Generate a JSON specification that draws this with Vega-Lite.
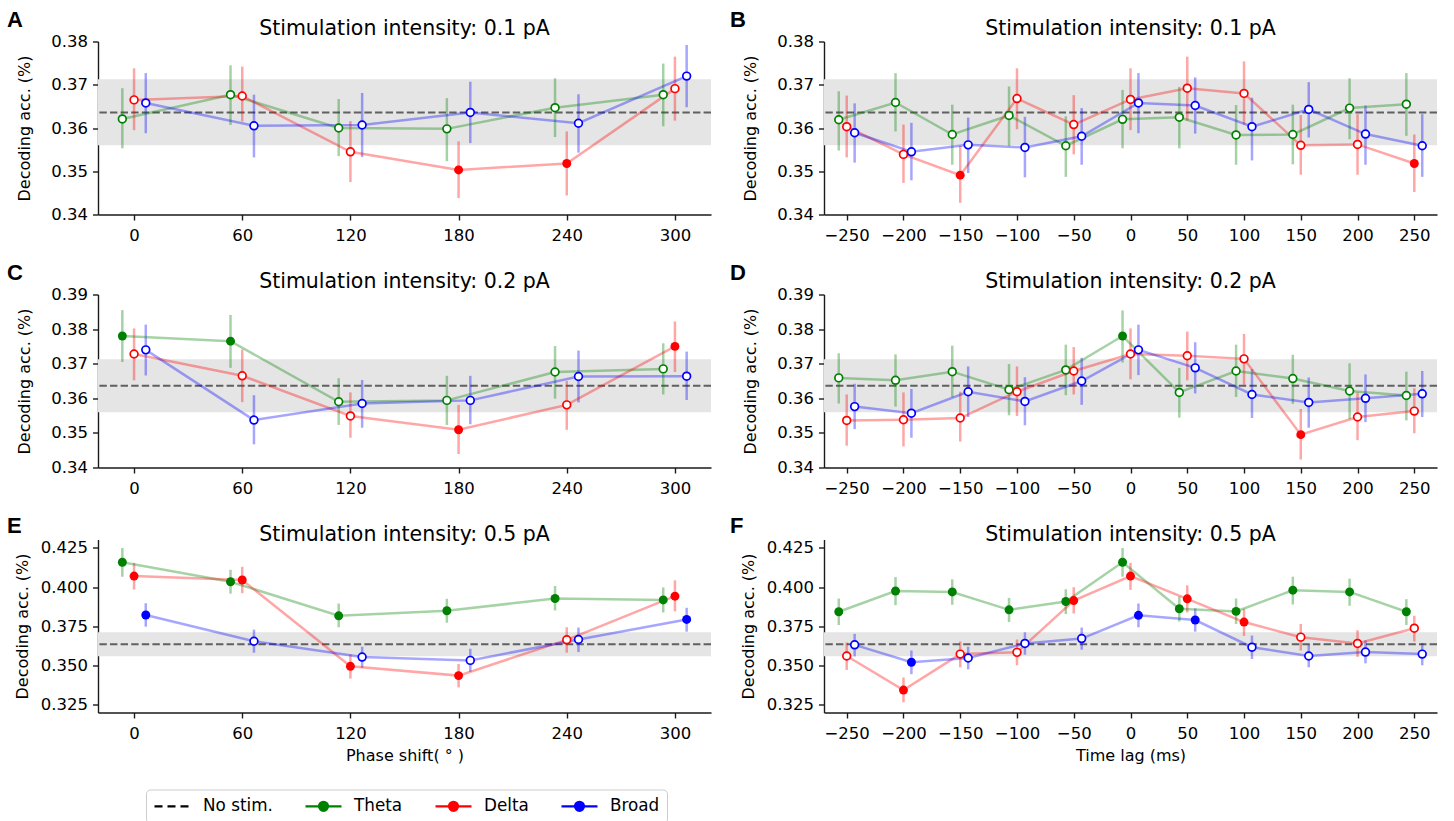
{
  "$schema": "https://vega.github.io/schema/vega-lite/v6.json",
  "background": "white",
  "padding": {"left": 7, "top": 8.5, "right": 4, "bottom": 1},
  "spacing": 18,
  "datasets": {
    "base": [{"lo": 0.356, "hi": 0.3713, "mean": 0.3636}],
    "pts": [
      {"p":"A","s":"Theta","x":-6.5,"y":0.3621,"lo":0.3553,"hi":0.3692,"f":0},
      {"p":"A","s":"Theta","x":53.5,"y":0.3677,"lo":0.3607,"hi":0.3745,"f":0},
      {"p":"A","s":"Theta","x":113.5,"y":0.3600,"lo":0.3535,"hi":0.3667,"f":0},
      {"p":"A","s":"Theta","x":173.5,"y":0.3598,"lo":0.3523,"hi":0.3669,"f":0},
      {"p":"A","s":"Theta","x":233.5,"y":0.3647,"lo":0.3579,"hi":0.3715,"f":0},
      {"p":"A","s":"Theta","x":293.5,"y":0.3677,"lo":0.3604,"hi":0.3749,"f":0},
      {"p":"A","s":"Delta","x":0,"y":0.3665,"lo":0.3595,"hi":0.3738,"f":0},
      {"p":"A","s":"Delta","x":60,"y":0.3674,"lo":0.3615,"hi":0.3742,"f":0},
      {"p":"A","s":"Delta","x":120,"y":0.3545,"lo":0.3475,"hi":0.3616,"f":0},
      {"p":"A","s":"Delta","x":180,"y":0.3503,"lo":0.3438,"hi":0.3569,"f":1},
      {"p":"A","s":"Delta","x":240,"y":0.3518,"lo":0.3444,"hi":0.3592,"f":1},
      {"p":"A","s":"Delta","x":300,"y":0.3691,"lo":0.3617,"hi":0.3765,"f":0},
      {"p":"A","s":"Broad","x":6.5,"y":0.3658,"lo":0.3588,"hi":0.3727,"f":0},
      {"p":"A","s":"Broad","x":66.5,"y":0.3605,"lo":0.3532,"hi":0.3677,"f":0},
      {"p":"A","s":"Broad","x":126.5,"y":0.3607,"lo":0.3533,"hi":0.3681,"f":0},
      {"p":"A","s":"Broad","x":186.5,"y":0.3636,"lo":0.3565,"hi":0.3707,"f":0},
      {"p":"A","s":"Broad","x":246.5,"y":0.3611,"lo":0.3543,"hi":0.3678,"f":0},
      {"p":"A","s":"Broad","x":306.5,"y":0.3720,"lo":0.3648,"hi":0.3792,"f":0},

      {"p":"B","s":"Theta","x":-257,"y":0.3619,"lo":0.3548,"hi":0.3685,"f":0},
      {"p":"B","s":"Theta","x":-207,"y":0.3659,"lo":0.3592,"hi":0.3727,"f":0},
      {"p":"B","s":"Theta","x":-157,"y":0.3585,"lo":0.3515,"hi":0.3654,"f":0},
      {"p":"B","s":"Theta","x":-107,"y":0.3629,"lo":0.3558,"hi":0.3696,"f":0},
      {"p":"B","s":"Theta","x":-57,"y":0.3559,"lo":0.3487,"hi":0.3627,"f":0},
      {"p":"B","s":"Theta","x":-7,"y":0.3620,"lo":0.3553,"hi":0.3688,"f":0},
      {"p":"B","s":"Theta","x":43,"y":0.3625,"lo":0.3553,"hi":0.3695,"f":0},
      {"p":"B","s":"Theta","x":93,"y":0.3584,"lo":0.3515,"hi":0.3653,"f":0},
      {"p":"B","s":"Theta","x":143,"y":0.3585,"lo":0.3516,"hi":0.3654,"f":0},
      {"p":"B","s":"Theta","x":193,"y":0.3646,"lo":0.3574,"hi":0.3715,"f":0},
      {"p":"B","s":"Theta","x":243,"y":0.3655,"lo":0.3582,"hi":0.3727,"f":0},
      {"p":"B","s":"Delta","x":-250,"y":0.3603,"lo":0.3532,"hi":0.3675,"f":0},
      {"p":"B","s":"Delta","x":-200,"y":0.3539,"lo":0.3473,"hi":0.3608,"f":0},
      {"p":"B","s":"Delta","x":-150,"y":0.3491,"lo":0.3427,"hi":0.3559,"f":1},
      {"p":"B","s":"Delta","x":-100,"y":0.3668,"lo":0.3597,"hi":0.3738,"f":0},
      {"p":"B","s":"Delta","x":-50,"y":0.3608,"lo":0.3539,"hi":0.3676,"f":0},
      {"p":"B","s":"Delta","x":0,"y":0.3666,"lo":0.3595,"hi":0.3738,"f":0},
      {"p":"B","s":"Delta","x":50,"y":0.3692,"lo":0.3617,"hi":0.3765,"f":0},
      {"p":"B","s":"Delta","x":100,"y":0.3680,"lo":0.3608,"hi":0.3754,"f":0},
      {"p":"B","s":"Delta","x":150,"y":0.3560,"lo":0.3492,"hi":0.3630,"f":0},
      {"p":"B","s":"Delta","x":200,"y":0.3562,"lo":0.3492,"hi":0.3632,"f":0},
      {"p":"B","s":"Delta","x":250,"y":0.3518,"lo":0.3452,"hi":0.3585,"f":1},
      {"p":"B","s":"Broad","x":-243,"y":0.3589,"lo":0.3520,"hi":0.3657,"f":0},
      {"p":"B","s":"Broad","x":-193,"y":0.3545,"lo":0.3479,"hi":0.3612,"f":0},
      {"p":"B","s":"Broad","x":-143,"y":0.3561,"lo":0.3496,"hi":0.3624,"f":0},
      {"p":"B","s":"Broad","x":-93,"y":0.3555,"lo":0.3486,"hi":0.3626,"f":0},
      {"p":"B","s":"Broad","x":-43,"y":0.3581,"lo":0.3515,"hi":0.3646,"f":0},
      {"p":"B","s":"Broad","x":7,"y":0.3658,"lo":0.3588,"hi":0.3727,"f":0},
      {"p":"B","s":"Broad","x":57,"y":0.3652,"lo":0.3587,"hi":0.3717,"f":0},
      {"p":"B","s":"Broad","x":107,"y":0.3603,"lo":0.3525,"hi":0.3670,"f":0},
      {"p":"B","s":"Broad","x":157,"y":0.3643,"lo":0.3578,"hi":0.3706,"f":0},
      {"p":"B","s":"Broad","x":207,"y":0.3586,"lo":0.3515,"hi":0.3652,"f":0},
      {"p":"B","s":"Broad","x":257,"y":0.3559,"lo":0.3487,"hi":0.3632,"f":0},

      {"p":"C","s":"Theta","x":-6.5,"y":0.3780,"lo":0.3705,"hi":0.3855,"f":1},
      {"p":"C","s":"Theta","x":53.5,"y":0.3765,"lo":0.3688,"hi":0.3841,"f":1},
      {"p":"C","s":"Theta","x":113.5,"y":0.3590,"lo":0.3523,"hi":0.3658,"f":0},
      {"p":"C","s":"Theta","x":173.5,"y":0.3594,"lo":0.3523,"hi":0.3665,"f":0},
      {"p":"C","s":"Theta","x":233.5,"y":0.3676,"lo":0.3599,"hi":0.3751,"f":0},
      {"p":"C","s":"Theta","x":293.5,"y":0.3685,"lo":0.3611,"hi":0.3759,"f":0},
      {"p":"C","s":"Delta","x":0,"y":0.3728,"lo":0.3652,"hi":0.3802,"f":0},
      {"p":"C","s":"Delta","x":60,"y":0.3665,"lo":0.3589,"hi":0.3741,"f":0},
      {"p":"C","s":"Delta","x":120,"y":0.3549,"lo":0.3486,"hi":0.3617,"f":0},
      {"p":"C","s":"Delta","x":180,"y":0.3509,"lo":0.3439,"hi":0.3581,"f":1},
      {"p":"C","s":"Delta","x":240,"y":0.3581,"lo":0.3509,"hi":0.3650,"f":0},
      {"p":"C","s":"Delta","x":300,"y":0.3750,"lo":0.3676,"hi":0.3822,"f":1},
      {"p":"C","s":"Broad","x":6.5,"y":0.3740,"lo":0.3666,"hi":0.3813,"f":0},
      {"p":"C","s":"Broad","x":66.5,"y":0.3537,"lo":0.3467,"hi":0.3609,"f":0},
      {"p":"C","s":"Broad","x":126.5,"y":0.3585,"lo":0.3515,"hi":0.3653,"f":0},
      {"p":"C","s":"Broad","x":186.5,"y":0.3594,"lo":0.3525,"hi":0.3665,"f":0},
      {"p":"C","s":"Broad","x":246.5,"y":0.3663,"lo":0.3588,"hi":0.3738,"f":0},
      {"p":"C","s":"Broad","x":306.5,"y":0.3664,"lo":0.3595,"hi":0.3735,"f":0},

      {"p":"D","s":"Theta","x":-257,"y":0.3659,"lo":0.3585,"hi":0.3730,"f":0},
      {"p":"D","s":"Theta","x":-207,"y":0.3652,"lo":0.3576,"hi":0.3727,"f":0},
      {"p":"D","s":"Theta","x":-157,"y":0.3677,"lo":0.3603,"hi":0.3752,"f":0},
      {"p":"D","s":"Theta","x":-107,"y":0.3625,"lo":0.3551,"hi":0.3699,"f":0},
      {"p":"D","s":"Theta","x":-57,"y":0.3682,"lo":0.3609,"hi":0.3755,"f":0},
      {"p":"D","s":"Theta","x":-7,"y":0.3780,"lo":0.3703,"hi":0.3854,"f":1},
      {"p":"D","s":"Theta","x":43,"y":0.3617,"lo":0.3544,"hi":0.3688,"f":0},
      {"p":"D","s":"Theta","x":93,"y":0.3679,"lo":0.3604,"hi":0.3755,"f":0},
      {"p":"D","s":"Theta","x":143,"y":0.3657,"lo":0.3584,"hi":0.3726,"f":0},
      {"p":"D","s":"Theta","x":193,"y":0.3621,"lo":0.3540,"hi":0.3701,"f":0},
      {"p":"D","s":"Theta","x":243,"y":0.3608,"lo":0.3536,"hi":0.3677,"f":0},
      {"p":"D","s":"Delta","x":-250,"y":0.3536,"lo":0.3463,"hi":0.3611,"f":0},
      {"p":"D","s":"Delta","x":-200,"y":0.3538,"lo":0.3461,"hi":0.3617,"f":0},
      {"p":"D","s":"Delta","x":-150,"y":0.3543,"lo":0.3475,"hi":0.3619,"f":0},
      {"p":"D","s":"Delta","x":-100,"y":0.3619,"lo":0.3549,"hi":0.3692,"f":0},
      {"p":"D","s":"Delta","x":-50,"y":0.3679,"lo":0.3611,"hi":0.3748,"f":0},
      {"p":"D","s":"Delta","x":0,"y":0.3728,"lo":0.3655,"hi":0.3802,"f":0},
      {"p":"D","s":"Delta","x":50,"y":0.3723,"lo":0.3652,"hi":0.3793,"f":0},
      {"p":"D","s":"Delta","x":100,"y":0.3714,"lo":0.3639,"hi":0.3786,"f":0},
      {"p":"D","s":"Delta","x":150,"y":0.3495,"lo":0.3423,"hi":0.3569,"f":1},
      {"p":"D","s":"Delta","x":200,"y":0.3546,"lo":0.3479,"hi":0.3617,"f":0},
      {"p":"D","s":"Delta","x":250,"y":0.3563,"lo":0.3499,"hi":0.3629,"f":0},
      {"p":"D","s":"Broad","x":-243,"y":0.3576,"lo":0.3511,"hi":0.3642,"f":0},
      {"p":"D","s":"Broad","x":-193,"y":0.3557,"lo":0.3486,"hi":0.3627,"f":0},
      {"p":"D","s":"Broad","x":-143,"y":0.3619,"lo":0.3546,"hi":0.3692,"f":0},
      {"p":"D","s":"Broad","x":-93,"y":0.3591,"lo":0.3522,"hi":0.3661,"f":0},
      {"p":"D","s":"Broad","x":-43,"y":0.3650,"lo":0.3581,"hi":0.3717,"f":0},
      {"p":"D","s":"Broad","x":7,"y":0.3740,"lo":0.3667,"hi":0.3813,"f":0},
      {"p":"D","s":"Broad","x":57,"y":0.3688,"lo":0.3614,"hi":0.3762,"f":0},
      {"p":"D","s":"Broad","x":107,"y":0.3611,"lo":0.3543,"hi":0.3684,"f":0},
      {"p":"D","s":"Broad","x":157,"y":0.3588,"lo":0.3515,"hi":0.3660,"f":0},
      {"p":"D","s":"Broad","x":207,"y":0.3600,"lo":0.3531,"hi":0.3669,"f":0},
      {"p":"D","s":"Broad","x":257,"y":0.3613,"lo":0.3546,"hi":0.3679,"f":0},

      {"p":"E","s":"Theta","x":-6.5,"y":0.4159,"lo":0.4067,"hi":0.4250,"f":1},
      {"p":"E","s":"Theta","x":53.5,"y":0.4035,"lo":0.3959,"hi":0.4111,"f":1},
      {"p":"E","s":"Theta","x":113.5,"y":0.3818,"lo":0.3745,"hi":0.3896,"f":1},
      {"p":"E","s":"Theta","x":173.5,"y":0.3850,"lo":0.3774,"hi":0.3926,"f":1},
      {"p":"E","s":"Theta","x":233.5,"y":0.3928,"lo":0.3852,"hi":0.4008,"f":1},
      {"p":"E","s":"Theta","x":293.5,"y":0.3919,"lo":0.3839,"hi":0.3999,"f":1},
      {"p":"E","s":"Delta","x":0,"y":0.4071,"lo":0.3985,"hi":0.4155,"f":1},
      {"p":"E","s":"Delta","x":60,"y":0.4046,"lo":0.3962,"hi":0.4130,"f":1},
      {"p":"E","s":"Delta","x":120,"y":0.3496,"lo":0.3418,"hi":0.3572,"f":1},
      {"p":"E","s":"Delta","x":180,"y":0.3437,"lo":0.3362,"hi":0.3511,"f":1},
      {"p":"E","s":"Delta","x":240,"y":0.3665,"lo":0.3583,"hi":0.3745,"f":0},
      {"p":"E","s":"Delta","x":300,"y":0.3943,"lo":0.3846,"hi":0.4044,"f":1},
      {"p":"E","s":"Broad","x":6.5,"y":0.3823,"lo":0.3749,"hi":0.3898,"f":1},
      {"p":"E","s":"Broad","x":66.5,"y":0.3656,"lo":0.3583,"hi":0.3730,"f":0},
      {"p":"E","s":"Broad","x":126.5,"y":0.3555,"lo":0.3486,"hi":0.3621,"f":0},
      {"p":"E","s":"Broad","x":186.5,"y":0.3534,"lo":0.3461,"hi":0.3608,"f":0},
      {"p":"E","s":"Broad","x":246.5,"y":0.3667,"lo":0.3587,"hi":0.3743,"f":0},
      {"p":"E","s":"Broad","x":306.5,"y":0.3795,"lo":0.3717,"hi":0.3869,"f":1},

      {"p":"F","s":"Theta","x":-257,"y":0.3844,"lo":0.3759,"hi":0.3928,"f":1},
      {"p":"F","s":"Theta","x":-207,"y":0.3976,"lo":0.3886,"hi":0.4065,"f":1},
      {"p":"F","s":"Theta","x":-157,"y":0.3970,"lo":0.3888,"hi":0.4050,"f":1},
      {"p":"F","s":"Theta","x":-107,"y":0.3856,"lo":0.3778,"hi":0.3932,"f":1},
      {"p":"F","s":"Theta","x":-57,"y":0.3909,"lo":0.3829,"hi":0.3987,"f":1},
      {"p":"F","s":"Theta","x":-7,"y":0.4159,"lo":0.4067,"hi":0.4250,"f":1},
      {"p":"F","s":"Theta","x":43,"y":0.3863,"lo":0.3781,"hi":0.3941,"f":1},
      {"p":"F","s":"Theta","x":93,"y":0.3846,"lo":0.3766,"hi":0.3928,"f":1},
      {"p":"F","s":"Theta","x":143,"y":0.3981,"lo":0.3890,"hi":0.4067,"f":1},
      {"p":"F","s":"Theta","x":193,"y":0.3970,"lo":0.3882,"hi":0.4055,"f":1},
      {"p":"F","s":"Theta","x":243,"y":0.3844,"lo":0.3759,"hi":0.3924,"f":1},
      {"p":"F","s":"Delta","x":-250,"y":0.3562,"lo":0.3473,"hi":0.3648,"f":0},
      {"p":"F","s":"Delta","x":-200,"y":0.3345,"lo":0.3267,"hi":0.3425,"f":1},
      {"p":"F","s":"Delta","x":-150,"y":0.3574,"lo":0.3490,"hi":0.3654,"f":0},
      {"p":"F","s":"Delta","x":-100,"y":0.3585,"lo":0.3503,"hi":0.3667,"f":0},
      {"p":"F","s":"Delta","x":-50,"y":0.3915,"lo":0.3833,"hi":0.4000,"f":1},
      {"p":"F","s":"Delta","x":0,"y":0.4071,"lo":0.3983,"hi":0.4155,"f":1},
      {"p":"F","s":"Delta","x":50,"y":0.3926,"lo":0.3839,"hi":0.4012,"f":1},
      {"p":"F","s":"Delta","x":100,"y":0.3778,"lo":0.3690,"hi":0.3863,"f":1},
      {"p":"F","s":"Delta","x":150,"y":0.3682,"lo":0.3597,"hi":0.3766,"f":0},
      {"p":"F","s":"Delta","x":200,"y":0.3642,"lo":0.3557,"hi":0.3726,"f":0},
      {"p":"F","s":"Delta","x":250,"y":0.3739,"lo":0.3654,"hi":0.3818,"f":0},
      {"p":"F","s":"Broad","x":-243,"y":0.3633,"lo":0.3559,"hi":0.3703,"f":0},
      {"p":"F","s":"Broad","x":-193,"y":0.3522,"lo":0.3446,"hi":0.3597,"f":1},
      {"p":"F","s":"Broad","x":-143,"y":0.3549,"lo":0.3477,"hi":0.3621,"f":0},
      {"p":"F","s":"Broad","x":-93,"y":0.3642,"lo":0.3570,"hi":0.3713,"f":0},
      {"p":"F","s":"Broad","x":-43,"y":0.3673,"lo":0.3602,"hi":0.3743,"f":0},
      {"p":"F","s":"Broad","x":7,"y":0.3821,"lo":0.3745,"hi":0.3896,"f":1},
      {"p":"F","s":"Broad","x":57,"y":0.3791,"lo":0.3717,"hi":0.3865,"f":1},
      {"p":"F","s":"Broad","x":107,"y":0.3618,"lo":0.3543,"hi":0.3692,"f":0},
      {"p":"F","s":"Broad","x":157,"y":0.3562,"lo":0.3490,"hi":0.3633,"f":0},
      {"p":"F","s":"Broad","x":207,"y":0.3587,"lo":0.3515,"hi":0.3661,"f":0},
      {"p":"F","s":"Broad","x":257,"y":0.3574,"lo":0.3503,"hi":0.3645,"f":0}
    ]
  },
  "vconcat": [
    {
      "spacing": 18,
      "hconcat": [
        {
          "title": {"text": "A", "anchor": "start", "frame": "group", "dx": -91, "offset": -30, "font": "Liberation Sans", "fontSize": 22, "fontWeight": "bold", "color": "#000000", "baseline": "alphabetic"},
          "vconcat": [{
            "width": 613, "height": 173,
            "title": {"text": "Stimulation intensity: 0.1 pA"},
            "layer": [
              {"data": {"name": "base"}, "mark": {"type": "rect", "color": "#e5e5e5"},
               "encoding": {"y": {"field": "lo", "type": "quantitative", "scale": {"domain": [0.34, 0.38], "nice": false, "zero": false}, "axis": {"values": [0.34, 0.35, 0.36, 0.37, 0.38], "format": ".2f", "title": "Decoding acc. (%)"}}, "y2": {"field": "hi"}}},
              {"data": {"name": "base"}, "mark": {"type": "rule", "color": "#606060", "strokeWidth": 2, "strokeDash": [7.4, 3.2]},
               "encoding": {"y": {"field": "mean", "type": "quantitative", "scale": {"domain": [0.34, 0.38], "nice": false, "zero": false}, "axis": {"values": [0.34, 0.35, 0.36, 0.37, 0.38], "format": ".2f", "title": "Decoding acc. (%)"}}}},
              {"data": {"name": "pts"}, "transform": [{"filter": "datum.p === 'A'"}],
               "encoding": {
                 "x": {"field": "x", "type": "quantitative", "scale": {"domain": [-20, 320], "nice": false, "zero": false}, "axis": {"values": [0, 60, 120, 180, 240, 300], "title": null}},
                 "y": {"field": "y", "type": "quantitative", "scale": {"domain": [0.34, 0.38], "nice": false, "zero": false}, "axis": {"values": [0.34, 0.35, 0.36, 0.37, 0.38], "format": ".2f", "title": "Decoding acc. (%)"}},
                 "color": {"field": "s", "type": "nominal", "scale": {"domain": ["No stim.", "Theta", "Delta", "Broad"], "range": ["#000000", "#008000", "#ff0000", "#0000ff"]},
                   "legend": {
                     "title": null, "orient": "none", "legendX": 48, "legendY": 748, "direction": "horizontal",
                     "symbolSize": 256, "symbolStrokeWidth": 2.2, "symbolOpacity": 1,
                     "labelFont": "DejaVu Sans", "labelFontSize": 16.8, "labelColor": "#000000", "labelOffset": 31, "labelLimit": 300,
                     "columnPadding": 28, "padding": 7, "strokeColor": "#cccccc", "fillColor": "#ffffff", "cornerRadius": 4,
                     "encode": {"symbols": {"update": {
                       "shape": {"signal": "datum.value === 'No stim.' ? 'M-1,0H0M0.625,0H1.625M2.25,0H3.25' : 'M-1,0H3.5M1.8125,0A0.5625,0.5625 0 1,1 0.6875,0A0.5625,0.5625 0 1,1 1.8125,0Z'"},
                       "fill": {"scale": "color", "field": "value"},
                       "stroke": {"scale": "color", "field": "value"},
                       "strokeWidth": {"value": 2.2},
                       "opacity": {"value": 1},
                       "fillOpacity": {"value": 1},
                       "strokeOpacity": {"value": 1}
                     }}}
                   }}
               },
               "layer": [
                 {"mark": {"type": "rule", "strokeWidth": 2.5, "opacity": 0.35},
                  "encoding": {"y": {"field": "lo", "type": "quantitative", "scale": {"domain": [0.34, 0.38], "nice": false, "zero": false}, "axis": {"values": [0.34, 0.35, 0.36, 0.37, 0.38], "format": ".2f", "title": "Decoding acc. (%)"}}, "y2": {"field": "hi"}}},
                 {"mark": {"type": "line", "strokeWidth": 2.5, "opacity": 0.35}},
                 {"transform": [{"filter": "datum.f === 1"}], "mark": {"type": "point", "filled": true, "size": 80, "opacity": 1, "strokeWidth": 0}},
                 {"transform": [{"filter": "datum.f === 0"}], "mark": {"type": "point", "filled": false, "fill": "white", "size": 60, "strokeWidth": 1.7, "opacity": 1}}
               ]}
            ]
          }]
        },
        {
          "title": {"text": "B", "anchor": "start", "frame": "group", "dx": -94, "offset": -30, "font": "Liberation Sans", "fontSize": 22, "fontWeight": "bold", "color": "#000000", "baseline": "alphabetic"},
          "vconcat": [{
            "width": 613, "height": 173,
            "title": {"text": "Stimulation intensity: 0.1 pA"},
            "layer": [
              {"data": {"name": "base"}, "mark": {"type": "rect", "color": "#e5e5e5"},
               "encoding": {"y": {"field": "lo", "type": "quantitative", "scale": {"domain": [0.34, 0.38], "nice": false, "zero": false}, "axis": {"values": [0.34, 0.35, 0.36, 0.37, 0.38], "format": ".2f", "title": "Decoding acc. (%)"}}, "y2": {"field": "hi"}}},
              {"data": {"name": "base"}, "mark": {"type": "rule", "color": "#606060", "strokeWidth": 2, "strokeDash": [7.4, 3.2]},
               "encoding": {"y": {"field": "mean", "type": "quantitative", "scale": {"domain": [0.34, 0.38], "nice": false, "zero": false}, "axis": {"values": [0.34, 0.35, 0.36, 0.37, 0.38], "format": ".2f", "title": "Decoding acc. (%)"}}}},
              {"data": {"name": "pts"}, "transform": [{"filter": "datum.p === 'B'"}],
               "encoding": {
                 "x": {"field": "x", "type": "quantitative", "scale": {"domain": [-270, 270], "nice": false, "zero": false}, "axis": {"values": [-250, -200, -150, -100, -50, 0, 50, 100, 150, 200, 250], "title": null}},
                 "y": {"field": "y", "type": "quantitative", "scale": {"domain": [0.34, 0.38], "nice": false, "zero": false}, "axis": {"values": [0.34, 0.35, 0.36, 0.37, 0.38], "format": ".2f", "title": "Decoding acc. (%)"}},
                 "color": {"field": "s", "type": "nominal", "scale": {"domain": ["No stim.", "Theta", "Delta", "Broad"], "range": ["#000000", "#008000", "#ff0000", "#0000ff"]}, "legend": null}
               },
               "layer": [
                 {"mark": {"type": "rule", "strokeWidth": 2.5, "opacity": 0.35},
                  "encoding": {"y": {"field": "lo", "type": "quantitative", "scale": {"domain": [0.34, 0.38], "nice": false, "zero": false}, "axis": {"values": [0.34, 0.35, 0.36, 0.37, 0.38], "format": ".2f", "title": "Decoding acc. (%)"}}, "y2": {"field": "hi"}}},
                 {"mark": {"type": "line", "strokeWidth": 2.5, "opacity": 0.35}},
                 {"transform": [{"filter": "datum.f === 1"}], "mark": {"type": "point", "filled": true, "size": 80, "opacity": 1, "strokeWidth": 0}},
                 {"transform": [{"filter": "datum.f === 0"}], "mark": {"type": "point", "filled": false, "fill": "white", "size": 60, "strokeWidth": 1.7, "opacity": 1}}
               ]}
            ]
          }]
        }
      ]
    },
    {
      "spacing": 18,
      "hconcat": [
        {
          "title": {"text": "C", "anchor": "start", "frame": "group", "dx": -91, "offset": -30, "font": "Liberation Sans", "fontSize": 22, "fontWeight": "bold", "color": "#000000", "baseline": "alphabetic"},
          "vconcat": [{
            "width": 613, "height": 173,
            "title": {"text": "Stimulation intensity: 0.2 pA"},
            "layer": [
              {"data": {"name": "base"}, "mark": {"type": "rect", "color": "#e5e5e5"},
               "encoding": {"y": {"field": "lo", "type": "quantitative", "scale": {"domain": [0.34, 0.39], "nice": false, "zero": false}, "axis": {"values": [0.34, 0.35, 0.36, 0.37, 0.38, 0.39], "format": ".2f", "title": "Decoding acc. (%)"}}, "y2": {"field": "hi"}}},
              {"data": {"name": "base"}, "mark": {"type": "rule", "color": "#606060", "strokeWidth": 2, "strokeDash": [7.4, 3.2]},
               "encoding": {"y": {"field": "mean", "type": "quantitative", "scale": {"domain": [0.34, 0.39], "nice": false, "zero": false}, "axis": {"values": [0.34, 0.35, 0.36, 0.37, 0.38, 0.39], "format": ".2f", "title": "Decoding acc. (%)"}}}},
              {"data": {"name": "pts"}, "transform": [{"filter": "datum.p === 'C'"}],
               "encoding": {
                 "x": {"field": "x", "type": "quantitative", "scale": {"domain": [-20, 320], "nice": false, "zero": false}, "axis": {"values": [0, 60, 120, 180, 240, 300], "title": null}},
                 "y": {"field": "y", "type": "quantitative", "scale": {"domain": [0.34, 0.39], "nice": false, "zero": false}, "axis": {"values": [0.34, 0.35, 0.36, 0.37, 0.38, 0.39], "format": ".2f", "title": "Decoding acc. (%)"}},
                 "color": {"field": "s", "type": "nominal", "scale": {"domain": ["No stim.", "Theta", "Delta", "Broad"], "range": ["#000000", "#008000", "#ff0000", "#0000ff"]}, "legend": null}
               },
               "layer": [
                 {"mark": {"type": "rule", "strokeWidth": 2.5, "opacity": 0.35},
                  "encoding": {"y": {"field": "lo", "type": "quantitative", "scale": {"domain": [0.34, 0.39], "nice": false, "zero": false}, "axis": {"values": [0.34, 0.35, 0.36, 0.37, 0.38, 0.39], "format": ".2f", "title": "Decoding acc. (%)"}}, "y2": {"field": "hi"}}},
                 {"mark": {"type": "line", "strokeWidth": 2.5, "opacity": 0.35}},
                 {"transform": [{"filter": "datum.f === 1"}], "mark": {"type": "point", "filled": true, "size": 80, "opacity": 1, "strokeWidth": 0}},
                 {"transform": [{"filter": "datum.f === 0"}], "mark": {"type": "point", "filled": false, "fill": "white", "size": 60, "strokeWidth": 1.7, "opacity": 1}}
               ]}
            ]
          }]
        },
        {
          "title": {"text": "D", "anchor": "start", "frame": "group", "dx": -94, "offset": -30, "font": "Liberation Sans", "fontSize": 22, "fontWeight": "bold", "color": "#000000", "baseline": "alphabetic"},
          "vconcat": [{
            "width": 613, "height": 173,
            "title": {"text": "Stimulation intensity: 0.2 pA"},
            "layer": [
              {"data": {"name": "base"}, "mark": {"type": "rect", "color": "#e5e5e5"},
               "encoding": {"y": {"field": "lo", "type": "quantitative", "scale": {"domain": [0.34, 0.39], "nice": false, "zero": false}, "axis": {"values": [0.34, 0.35, 0.36, 0.37, 0.38, 0.39], "format": ".2f", "title": "Decoding acc. (%)"}}, "y2": {"field": "hi"}}},
              {"data": {"name": "base"}, "mark": {"type": "rule", "color": "#606060", "strokeWidth": 2, "strokeDash": [7.4, 3.2]},
               "encoding": {"y": {"field": "mean", "type": "quantitative", "scale": {"domain": [0.34, 0.39], "nice": false, "zero": false}, "axis": {"values": [0.34, 0.35, 0.36, 0.37, 0.38, 0.39], "format": ".2f", "title": "Decoding acc. (%)"}}}},
              {"data": {"name": "pts"}, "transform": [{"filter": "datum.p === 'D'"}],
               "encoding": {
                 "x": {"field": "x", "type": "quantitative", "scale": {"domain": [-270, 270], "nice": false, "zero": false}, "axis": {"values": [-250, -200, -150, -100, -50, 0, 50, 100, 150, 200, 250], "title": null}},
                 "y": {"field": "y", "type": "quantitative", "scale": {"domain": [0.34, 0.39], "nice": false, "zero": false}, "axis": {"values": [0.34, 0.35, 0.36, 0.37, 0.38, 0.39], "format": ".2f", "title": "Decoding acc. (%)"}},
                 "color": {"field": "s", "type": "nominal", "scale": {"domain": ["No stim.", "Theta", "Delta", "Broad"], "range": ["#000000", "#008000", "#ff0000", "#0000ff"]}, "legend": null}
               },
               "layer": [
                 {"mark": {"type": "rule", "strokeWidth": 2.5, "opacity": 0.35},
                  "encoding": {"y": {"field": "lo", "type": "quantitative", "scale": {"domain": [0.34, 0.39], "nice": false, "zero": false}, "axis": {"values": [0.34, 0.35, 0.36, 0.37, 0.38, 0.39], "format": ".2f", "title": "Decoding acc. (%)"}}, "y2": {"field": "hi"}}},
                 {"mark": {"type": "line", "strokeWidth": 2.5, "opacity": 0.35}},
                 {"transform": [{"filter": "datum.f === 1"}], "mark": {"type": "point", "filled": true, "size": 80, "opacity": 1, "strokeWidth": 0}},
                 {"transform": [{"filter": "datum.f === 0"}], "mark": {"type": "point", "filled": false, "fill": "white", "size": 60, "strokeWidth": 1.7, "opacity": 1}}
               ]}
            ]
          }]
        }
      ]
    },
    {
      "spacing": 18,
      "hconcat": [
        {
          "title": {"text": "E", "anchor": "start", "frame": "group", "dx": -91, "offset": -30, "font": "Liberation Sans", "fontSize": 22, "fontWeight": "bold", "color": "#000000", "baseline": "alphabetic"},
          "vconcat": [{
            "width": 613, "height": 173,
            "title": {"text": "Stimulation intensity: 0.5 pA"},
            "layer": [
              {"data": {"name": "base"}, "mark": {"type": "rect", "color": "#e5e5e5"},
               "encoding": {"y": {"field": "lo", "type": "quantitative", "scale": {"domain": [0.3202, 0.4304], "nice": false, "zero": false}, "axis": {"values": [0.325, 0.35, 0.375, 0.4, 0.425], "format": ".3f", "title": "Decoding acc. (%)", "titlePadding": 10}}, "y2": {"field": "hi"}}},
              {"data": {"name": "base"}, "mark": {"type": "rule", "color": "#606060", "strokeWidth": 2, "strokeDash": [7.4, 3.2]},
               "encoding": {"y": {"field": "mean", "type": "quantitative", "scale": {"domain": [0.3202, 0.4304], "nice": false, "zero": false}, "axis": {"values": [0.325, 0.35, 0.375, 0.4, 0.425], "format": ".3f", "title": "Decoding acc. (%)", "titlePadding": 10}}}},
              {"data": {"name": "pts"}, "transform": [{"filter": "datum.p === 'E'"}],
               "encoding": {
                 "x": {"field": "x", "type": "quantitative", "scale": {"domain": [-20, 320], "nice": false, "zero": false}, "axis": {"values": [0, 60, 120, 180, 240, 300], "title": "Phase shift( ° )"}},
                 "y": {"field": "y", "type": "quantitative", "scale": {"domain": [0.3202, 0.4304], "nice": false, "zero": false}, "axis": {"values": [0.325, 0.35, 0.375, 0.4, 0.425], "format": ".3f", "title": "Decoding acc. (%)", "titlePadding": 10}},
                 "color": {"field": "s", "type": "nominal", "scale": {"domain": ["No stim.", "Theta", "Delta", "Broad"], "range": ["#000000", "#008000", "#ff0000", "#0000ff"]}, "legend": null}
               },
               "layer": [
                 {"mark": {"type": "rule", "strokeWidth": 2.5, "opacity": 0.35},
                  "encoding": {"y": {"field": "lo", "type": "quantitative", "scale": {"domain": [0.3202, 0.4304], "nice": false, "zero": false}, "axis": {"values": [0.325, 0.35, 0.375, 0.4, 0.425], "format": ".3f", "title": "Decoding acc. (%)", "titlePadding": 10}}, "y2": {"field": "hi"}}},
                 {"mark": {"type": "line", "strokeWidth": 2.5, "opacity": 0.35}},
                 {"transform": [{"filter": "datum.f === 1"}], "mark": {"type": "point", "filled": true, "size": 80, "opacity": 1, "strokeWidth": 0}},
                 {"transform": [{"filter": "datum.f === 0"}], "mark": {"type": "point", "filled": false, "fill": "white", "size": 60, "strokeWidth": 1.7, "opacity": 1}}
               ]}
            ]
          }]
        },
        {
          "title": {"text": "F", "anchor": "start", "frame": "group", "dx": -94, "offset": -30, "font": "Liberation Sans", "fontSize": 22, "fontWeight": "bold", "color": "#000000", "baseline": "alphabetic"},
          "vconcat": [{
            "width": 613, "height": 173,
            "title": {"text": "Stimulation intensity: 0.5 pA"},
            "layer": [
              {"data": {"name": "base"}, "mark": {"type": "rect", "color": "#e5e5e5"},
               "encoding": {"y": {"field": "lo", "type": "quantitative", "scale": {"domain": [0.3202, 0.4304], "nice": false, "zero": false}, "axis": {"values": [0.325, 0.35, 0.375, 0.4, 0.425], "format": ".3f", "title": "Decoding acc. (%)", "titlePadding": 10}}, "y2": {"field": "hi"}}},
              {"data": {"name": "base"}, "mark": {"type": "rule", "color": "#606060", "strokeWidth": 2, "strokeDash": [7.4, 3.2]},
               "encoding": {"y": {"field": "mean", "type": "quantitative", "scale": {"domain": [0.3202, 0.4304], "nice": false, "zero": false}, "axis": {"values": [0.325, 0.35, 0.375, 0.4, 0.425], "format": ".3f", "title": "Decoding acc. (%)", "titlePadding": 10}}}},
              {"data": {"name": "pts"}, "transform": [{"filter": "datum.p === 'F'"}],
               "encoding": {
                 "x": {"field": "x", "type": "quantitative", "scale": {"domain": [-270, 270], "nice": false, "zero": false}, "axis": {"values": [-250, -200, -150, -100, -50, 0, 50, 100, 150, 200, 250], "title": "Time lag (ms)"}},
                 "y": {"field": "y", "type": "quantitative", "scale": {"domain": [0.3202, 0.4304], "nice": false, "zero": false}, "axis": {"values": [0.325, 0.35, 0.375, 0.4, 0.425], "format": ".3f", "title": "Decoding acc. (%)", "titlePadding": 10}},
                 "color": {"field": "s", "type": "nominal", "scale": {"domain": ["No stim.", "Theta", "Delta", "Broad"], "range": ["#000000", "#008000", "#ff0000", "#0000ff"]}, "legend": null}
               },
               "layer": [
                 {"mark": {"type": "rule", "strokeWidth": 2.5, "opacity": 0.35},
                  "encoding": {"y": {"field": "lo", "type": "quantitative", "scale": {"domain": [0.3202, 0.4304], "nice": false, "zero": false}, "axis": {"values": [0.325, 0.35, 0.375, 0.4, 0.425], "format": ".3f", "title": "Decoding acc. (%)", "titlePadding": 10}}, "y2": {"field": "hi"}}},
                 {"mark": {"type": "line", "strokeWidth": 2.5, "opacity": 0.35}},
                 {"transform": [{"filter": "datum.f === 1"}], "mark": {"type": "point", "filled": true, "size": 80, "opacity": 1, "strokeWidth": 0}},
                 {"transform": [{"filter": "datum.f === 0"}], "mark": {"type": "point", "filled": false, "fill": "white", "size": 60, "strokeWidth": 1.7, "opacity": 1}}
               ]}
            ]
          }]
        }
      ]
    }
  ],
  "config": {
    "view": {"stroke": null},
    "font": "DejaVu Sans",
    "axis": {"grid": false, "domainColor": "#1a1a1a", "domainWidth": 1.4, "tickColor": "#1a1a1a", "tickWidth": 1.4, "tickSize": 5.5, "labelFont": "DejaVu Sans", "labelFontSize": 16.5, "labelColor": "#000000", "labelFlush": false, "titleFont": "DejaVu Sans", "titleFontSize": 16, "titleFontWeight": "normal", "titleColor": "#000000"},
    "axisX": {"labelPadding": 7, "titlePadding": 6},
    "axisY": {"labelPadding": 5, "titlePadding": 18},
    "title": {"font": "DejaVu Sans", "fontSize": 20.5, "fontWeight": "normal", "color": "#000000", "anchor": "middle", "frame": "group", "offset": -5.7, "baseline": "alphabetic"}
  }
}
